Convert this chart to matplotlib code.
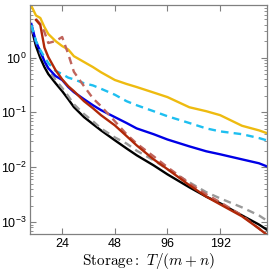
import numpy as np
import matplotlib
matplotlib.use("Agg")
import matplotlib.pyplot as plt
from matplotlib.ticker import LogLocator, NullLocator, NullFormatter

plt.rcParams["font.family"] = ["Liberation Sans", "DejaVu Sans"]
plt.rcParams["mathtext.fontset"] = "cm"

# storage values T/(m+n)
x_all = [16, 17, 18, 19, 20, 22, 24, 26, 28, 32, 36, 40, 48, 56, 64, 80, 96, 128, 160, 192, 256, 320, 354]
x_red = x_all[1:]

yellow = [8.74, 5.86, 5.27, 3.61, 2.69, 2.00, 1.62, 1.40, 1.06, 0.83, 0.67, 0.54, 0.39, 0.33, 0.29,
          0.23, 0.19, 0.124, 0.105, 0.089, 0.057, 0.047, 0.042]
cyan = [3.93, 2.00, 1.37, 1.02, 0.79, 0.57, 0.50, 0.43, 0.40, 0.34, 0.31, 0.27, 0.21, 0.16, 0.135,
        0.105, 0.085, 0.064, 0.051, 0.045, 0.040, 0.034, 0.031]
blue = [4.1, 1.92, 1.31, 0.86, 0.64, 0.46, 0.39, 0.29, 0.234, 0.174, 0.135, 0.110, 0.082, 0.064, 0.051,
        0.040, 0.032, 0.024, 0.0195, 0.0172, 0.0139, 0.0118, 0.0104]
black = [3.46, 1.62, 0.98, 0.67, 0.50, 0.34, 0.244, 0.174, 0.125, 0.082, 0.061, 0.047, 0.031, 0.022, 0.0165,
         0.0108, 0.0074, 0.0043, 0.0029, 0.0022, 0.00132, 0.00090, 0.00073]
gray = [3.61, 1.92, 1.21, 0.83, 0.62, 0.39, 0.28, 0.198, 0.141, 0.093, 0.069, 0.051, 0.035, 0.027, 0.020,
        0.0134, 0.0092, 0.0053, 0.0035, 0.0027, 0.00185, 0.00132, 0.00107]
red = [4.85, 3.93, 1.52, 1.02, 0.59, 0.40, 0.30, 0.244, 0.160, 0.119, 0.089, 0.058, 0.037, 0.025,
       0.0139, 0.0092, 0.0047, 0.0029, 0.0021, 0.00127, 0.00076, 0.00059]
rose = [5.06, 4.1, 2.93, 1.84, 2.00, 2.37, 1.16, 0.55, 0.30, 0.18, 0.130, 0.069, 0.040, 0.027,
        0.0158, 0.0100, 0.0051, 0.0032, 0.0023, 0.00132, 0.00076, 0.00059]

xticks = [24, 48, 96, 192]
yticks = [1e-3, 1e-2, 1e-1, 1e0]
ylabels = [r"$\mathregular{10^{-3}}$", r"$\mathregular{10^{-2}}$", r"$\mathregular{10^{-1}}$", r"$\mathregular{10^{0}}$"]

fig = plt.figure(figsize=(2.74, 2.77), dpi=100)
ax = fig.add_axes([0.111, 0.156, 0.862, 0.826])

lw = 1.7
dash = (0, (3.2, 2.2))
ax.plot(x_all, black, color="black", lw=lw)
ax.plot(x_all, gray, color="#9a9a9a", lw=lw, linestyle=dash)
ax.plot(x_all, blue, color="#0000e6", lw=lw)
ax.plot(x_all, cyan, color="#1ebff0", lw=lw, linestyle=dash)
ax.plot(x_all, yellow, color="#eebb10", lw=lw)
ax.plot(x_red, rose, color="#c0645c", lw=lw, linestyle=dash)
ax.plot(x_red, red, color="#b02808", lw=lw)

ax.set_xscale("log", base=2)
ax.set_yscale("log")
ax.set_xlim(15.8, 354)
ax.set_ylim(6.1e-4, 9.1)

ax.set_xticks(xticks)
ax.set_xticklabels([str(t) for t in xticks])
ax.xaxis.set_minor_locator(NullLocator())
ax.set_yticks(yticks)
ax.set_yticklabels(ylabels)
ax.yaxis.set_minor_locator(LogLocator(base=10, subs=np.arange(2, 10)))
ax.yaxis.set_minor_formatter(NullFormatter())

ax.tick_params(which="both", direction="in", top=True, right=True, color="#808080",
               labelsize=9, pad=3)
ax.tick_params(which="major", length=4, width=0.8)
ax.tick_params(which="minor", length=2.2, width=0.6)
for s in ax.spines.values():
    s.set_color("#808080")
    s.set_linewidth(0.9)

ax.set_xlabel(r"$\mathrm{Storage:}\ T/(m+n)$", fontsize=11, labelpad=1)

fig.savefig("out.png", dpi=100)
